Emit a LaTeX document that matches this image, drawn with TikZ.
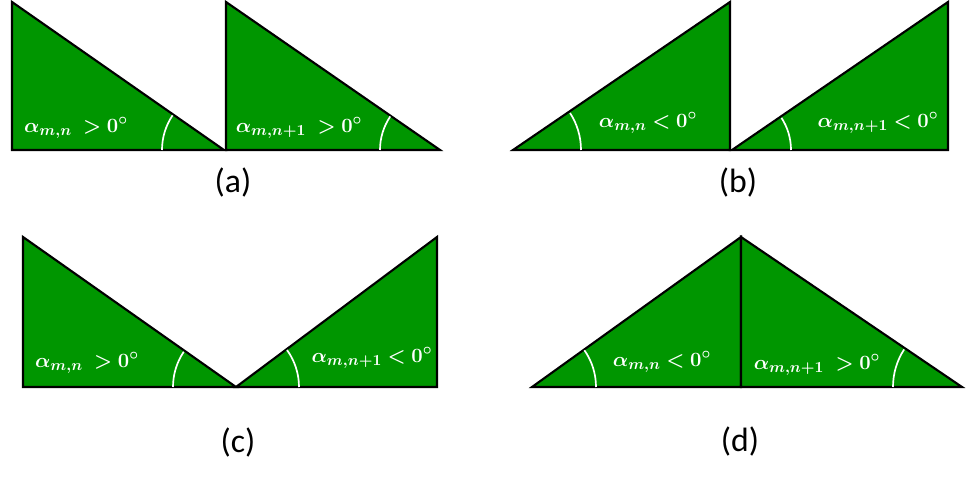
\documentclass[tikz,border=0pt]{standalone}
\usepackage{fontspec}
\usepackage{bm}
\newfontfamily\panelfont{Carlito}
\definecolor{wedgegreen}{RGB}{0,150,0}
\tikzset{
  wedge/.style={
    fill=wedgegreen,
    draw=black,
    line width=1.5pt,
    line join=miter
  },
  angle-arc/.style={draw=white, line width=1.2pt},
  angle-label/.style={text=white, inner sep=0pt, font=\fontsize{15.5}{18}\selectfont},
  panel-label/.style={inner sep=0pt, font=\panelfont\fontsize{24}{28}\selectfont}
}
% arc at a vertex: vertex, start angle, end angle, radius
\newcommand{\anglemark}[4]{
  \draw[angle-arc] (#1) ++(#2:#4) arc[start angle=#2, end angle=#3, radius=#4];
}

\begin{document}
\begin{tikzpicture}[x=0.25mm, y=0.25mm]
  \useasboundingbox (0,0) rectangle (978,477);
  % (a) both slopes falling
  \filldraw[wedge] (12,475) -- (12,327) -- (224,327) -- cycle;
  \filldraw[wedge] (226,475) -- (226,327) -- (440,327) -- cycle;
  \coordinate (a-v1) at (224,327);
  \coordinate (a-v2) at (440,327);
  \anglemark{a-v1}{180}{146}{62}
  \anglemark{a-v2}{180}{146}{60}
  \node[angle-label] (a-lbl1) at (76,349) {$\bm{\alpha_{m,n}\; > \mathbf{0}^{\circ}}$};
  \node[angle-label] (a-lbl2) at (299,349) {$\bm{\alpha_{m,n+1}\; > \mathbf{0}^{\circ}}$};
  % (b) both slopes rising
  \filldraw[wedge] (513,327) -- (730,475) -- (730,327) -- cycle;
  \filldraw[wedge] (732,327) -- (948,475) -- (948,327) -- cycle;
  \coordinate (b-v1) at (513,327);
  \coordinate (b-v2) at (732,327);
  \anglemark{b-v1}{0}{33}{68}
  \anglemark{b-v2}{0}{33}{59}
  \node[angle-label] (b-lbl1) at (648,354) {$\bm{\alpha_{m,n} < \mathbf{0}^{\circ}}$};
  \node[angle-label] (b-lbl2) at (878,354) {$\bm{\alpha_{m,n+1} < \mathbf{0}^{\circ}}$};
  % (c) valley
  \filldraw[wedge] (23,240) -- (23,90) -- (236,90) -- cycle;
  \filldraw[wedge] (236,90) -- (437,240) -- (437,90) -- cycle;
  \coordinate (c-v) at (236,90);
  \anglemark{c-v}{180}{146}{63}
  \anglemark{c-v}{0}{36}{63}
  \node[angle-label] (c-lbl1) at (87,114) {$\bm{\alpha_{m,n}\; > \mathbf{0}^{\circ}}$};
  \node[angle-label] (c-lbl2) at (372,119) {$\bm{\alpha_{m,n+1} < \mathbf{0}^{\circ}}$};
  % (d) peak
  \filldraw[wedge] (532,90) -- (741,240) -- (741,90) -- cycle;
  \filldraw[wedge] (741,90) -- (741,240) -- (962,90) -- cycle;
  \coordinate (d-v1) at (532,90);
  \coordinate (d-v2) at (962,90);
  \anglemark{d-v1}{0}{35}{64}
  \anglemark{d-v2}{180}{147}{69}
  \node[angle-label] (d-lbl1) at (662,115) {$\bm{\alpha_{m,n} < \mathbf{0}^{\circ}}$};
  \node[angle-label] (d-lbl2) at (817,112) {$\bm{\alpha_{m,n+1}\; > \mathbf{0}^{\circ}}$};
  % panel captions
  \node[panel-label] (cap-a) at (233,294) {(a)};
  \node[panel-label] (cap-b) at (738,294) {(b)};
  \node[panel-label] (cap-c) at (238,34) {(c)};
  \node[panel-label] (cap-d) at (740,35) {(d)};
\end{tikzpicture}
\end{document}
